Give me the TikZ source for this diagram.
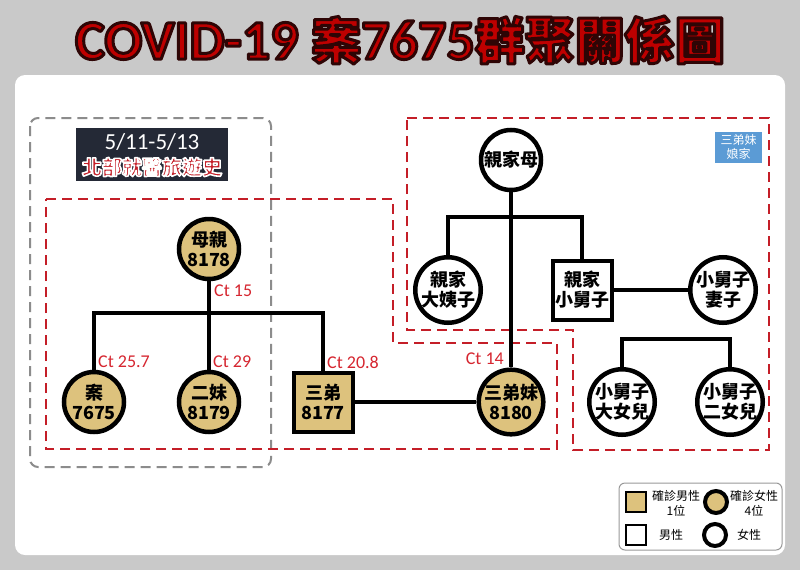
\documentclass[tikz,border=0pt]{standalone}
\usepackage{fontspec}
\setmainfont{Carlito}
\newfontfamily\cjk{Noto Sans CJK TC}
\usetikzlibrary{positioning}
\definecolor{CvGray}{RGB}{201,201,201}
\definecolor{CvTan}{RGB}{221,194,125}
\definecolor{CvRed}{RGB}{196,30,40}
\definecolor{CvCtRed}{RGB}{214,38,48}
\definecolor{CvTitle}{RGB}{190,0,0}
\definecolor{CvNavy}{RGB}{36,41,54}
\definecolor{CvBlue}{RGB}{91,155,213}
\tikzset{
  cv/link/.style={line width=4pt, draw=black},
  cv/female/.style={
    circle,
    draw=black,
    line width=4.5pt,
    fill=white,
    minimum size=60pt,
    inner sep=0pt,
    align=center,
    font=\cjk\bfseries\fontsize{18}{20}\selectfont
  },
  cv/male/.style={
    rectangle,
    draw=black,
    line width=4pt,
    fill=white,
    minimum size=59pt,
    inner sep=0pt,
    align=center,
    font=\cjk\bfseries\fontsize{18}{20}\selectfont
  },
  cv/case/.style={fill=CvTan},
  cv/ct/.style={font=\fontsize{18}{19}\selectfont, text=CvCtRed, inner sep=1pt},
  cv/reddash/.style={draw=CvRed, line width=2pt, dash pattern=on 10pt off 6pt},
  cv/graydash/.style={draw=black!45, line width=2pt, dash pattern=on 10pt off 6pt, rounded corners=8pt},
  cv/legendtext/.style={font=\cjk\fontsize{12}{15}\selectfont, align=center, inner sep=0pt}
}
% outlined text: #1 = stroke colour as pdf operands, #2 = width
\newcommand\cvedge[3]{\special{pdf:literal direct #1 RG 2 Tr #2 w 1 j}#3\special{pdf:literal direct 0 Tr}}
\newcommand\cvtitle{\cvedge{0.18 0.02 0.02}{3}{\bfseries\fontsize{56}{60}\selectfont COVID-19 {\cjk\fontsize{50}{54}\selectfont 案}7675{\cjk\fontsize{50}{54}\selectfont 群聚關係圖}}}
\newcommand\cvtrip{\cvedge{1 1 1}{1.6}{\cjk\bfseries\fontsize{20}{22}\selectfont 北部就醫旅遊史}}

\begin{document}
\begin{tikzpicture}[x=1pt,y=-1pt]
  \useasboundingbox (0,0) rectangle (800,570);
  \fill[CvGray] (0,0) rectangle (800,570);
  \fill[white, rounded corners=10pt] (15,75) rectangle (785,555);

  % title
  \node[text=CvTitle] (title) at (400,40) {\cvtitle};

  % travel group and family groups
  \draw[cv/graydash] (30,118) rectangle (271,467);
  \draw[cv/reddash] (46,199) -- (393,199) -- (393,343) -- (557,343) -- (557,449) -- (46,449) -- cycle;
  \draw[cv/reddash] (407,118) -- (769,118) -- (769,450) -- (573,450) -- (573,330) -- (407,330) -- cycle;

  \node[fill=CvNavy, minimum width=152pt, minimum height=53pt] (trip) at (152,154.5) {};
  \node[text=white, font=\fontsize{23}{24}\selectfont] (tripdate) at (152,142) {5/11-5/13};
  \node[text=CvRed] (tripnote) at (152,167) {\cvtrip};

  \node[fill=CvBlue, text=white, minimum width=47pt, minimum height=31pt, align=center,
        font=\cjk\fontsize{12}{14.5}\selectfont, inner sep=0pt] (home) at (738.5,147) {三弟妹\\娘家};

  % people
  \node[cv/female, cv/case] (mom) at (209,249) {母親\\8178};
  \node[cv/female, cv/case] (case) at (94,402) {案\\7675};
  \node[cv/female, cv/case] (sis2) at (209,402) {二妹\\8179};
  \node[cv/male, cv/case] (bro) at (323,402) {三弟\\8177};
  \node[cv/female, cv/case] (bsw) at (511,402) {三弟妹\\8180};
  \node[cv/female] (inmom) at (511,160) {親家母};
  \node[cv/female] (aunt) at (448,290) {親家\\大姨子};
  \node[cv/male] (uncle) at (582,290) {親家\\小舅子};
  \node[cv/female] (uwife) at (723,290) {小舅子\\妻子};
  \node[cv/female] (dau1) at (622,402) {小舅子\\大女兒};
  \node[cv/female] (dau2) at (730,402) {小舅子\\二女兒};

  % links
  \coordinate (kin1) at (209,313);
  \coordinate (kin2) at (511,217);
  \coordinate (kin3) at (676,339);
  \draw[cv/link] (mom) -- (sis2);
  \draw[cv/link] (case) |- (kin1) -| (bro);
  \draw[cv/link] (bro) -- (bsw);
  \draw[cv/link] (inmom) -- (bsw);
  \draw[cv/link] (aunt) |- (kin2) -| (uncle);
  \draw[cv/link] (uncle) -- (uwife);
  \draw[cv/link] (dau1) |- (kin3) -| (dau2);

  % ct values
  \node[cv/ct, anchor=north west] at ([xshift=4pt, yshift=-2pt]mom.south) {Ct 15};
  \node[cv/ct, anchor=south west] at ([xshift=3pt, yshift=1pt]case.north) {Ct 25.7};
  \node[cv/ct, anchor=south west] at ([xshift=3pt, yshift=1pt]sis2.north) {Ct 29};
  \node[cv/ct, anchor=south west] at ([xshift=3pt, yshift=1pt]bro.north) {Ct 20.8};
  \node[cv/ct, anchor=south east] at ([xshift=-6pt, yshift=2pt]bsw.north) {Ct 14};

  % legend
  \draw[black!40, line width=1pt, rounded corners=6pt] (619,483) rectangle (782,550);
  \node[cv/male, cv/case, minimum size=20pt, line width=2pt] (lgcm) at (635.5,502) {};
  \node[cv/female, cv/case, minimum size=22pt, line width=4pt] (lgcf) at (716,502) {};
  \node[cv/male, minimum size=20pt, line width=2pt] (lgm) at (635.5,534.5) {};
  \node[cv/female, minimum size=22pt, line width=4pt] (lgf) at (715,535) {};
  \node[cv/legendtext] at (676,503) {確診男性\\1位};
  \node[cv/legendtext] at (754,503) {確診女性\\4位};
  \node[cv/legendtext] at (671,535) {男性};
  \node[cv/legendtext] at (749,535) {女性};
\end{tikzpicture}
\end{document}
